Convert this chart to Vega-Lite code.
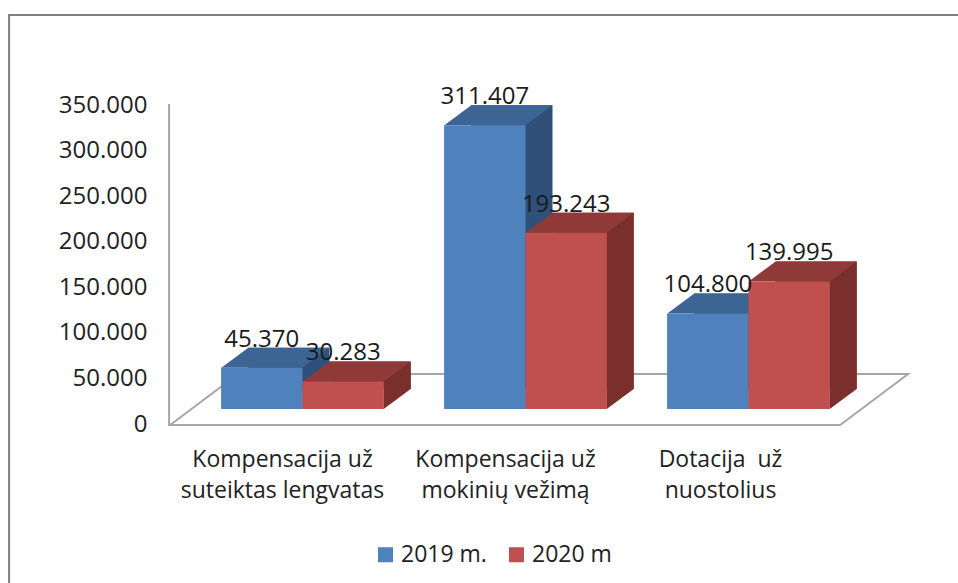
{"$schema":"https://vega.github.io/schema/vega-lite/v6.json","width":669,"height":319,"autosize":"none","padding":{"left":191,"top":90,"right":98,"bottom":174},"background":"white","config":{"view":{"stroke":null},"font":"Open Sans"},
"resolve":{"scale":{"xOffset":"independent"}},
"datasets":{"rows":[
{"cat":"Kompensacija už\nsuteiktas lengvatas","series":"2019 m.","value":45370},
{"cat":"Kompensacija už\nsuteiktas lengvatas","series":"2020 m","value":30283},
{"cat":"Kompensacija už\nmokinių vežimą","series":"2019 m.","value":311407},
{"cat":"Kompensacija už\nmokinių vežimą","series":"2020 m","value":193243},
{"cat":"Dotacija \u00a0už\nnuostolius","series":"2019 m.","value":104800},
{"cat":"Dotacija \u00a0už\nnuostolius","series":"2020 m","value":139995}],
"frame":[{"cat":"Kompensacija už\nmokinių vežimą"}]},
"data":{"name":"rows"},
"encoding":{
"x":{"field":"cat","type":"nominal","sort":["Kompensacija už\nsuteiktas lengvatas","Kompensacija už\nmokinių vežimą","Dotacija \u00a0už\nnuostolius"],"title":null,"scale":{"domain":["Kompensacija už\nsuteiktas lengvatas","Kompensacija už\nmokinių vežimą","Dotacija \u00a0už\nnuostolius"],"paddingInner":0.27,"paddingOuter":0.135},"axis":{"domain":false,"ticks":false,"grid":false,"labelAngle":0,"labelAlign":"center","labelBaseline":"top","labelPadding":39,"labelOffset":{"condition":{"test":"indexof(datum.label,'Dotacija')===0","value":-28},"value":-20},"labelFontSize":23,"labelColor":"#222222","labelLimit":0,"labelLineHeight":31,"labelExpr":"split(datum.label,'\\n')"}},
"xOffset":{"field":"series","type":"nominal","sort":null}},
"layer":[
{"data":{"name":"frame"},"mark":{"type":"point","shape":"M-435,200 L-435,-394 L541,-394","size":4,"filled":false,"stroke":"#7f7f7f","strokeWidth":2,"opacity":1},"encoding":{"xOffset":{"value":0},"y":{"datum":0,"type":"quantitative"}}},
{"data":{"name":"frame"},"mark":{"type":"point","shape":"M-275,-305 L-275,16 L396,16 L464,-35 L-206,-35 L-274,16","size":4,"filled":false,"stroke":"#a6a6a6","strokeWidth":2,"opacity":1},"encoding":{"xOffset":{"value":0},"y":{"datum":0,"type":"quantitative"}}},
{"mark":{"type":"bar","yOffset":-20,"y2Offset":-20},"encoding":{"xOffset":{"field":"series","type":"nominal","sort":null,"scale":{"range":[27,189.8]}},"y":{"field":"value","type":"quantitative","title":null,"scale":{"domain":[0,350000]},"axis":{"domain":false,"ticks":false,"grid":false,"values":[0,50000,100000,150000,200000,250000,300000,350000],"labelExpr":"replace(format(datum.value,','),',','.')","labelFontSize":24,"labelColor":"#222222","labelPadding":44,"labelOffset":15,"labelBaseline":"middle"}},"fill":{"condition":{"test":"datum.series==='2019 m.'","value":"#2f5078"},"value":"#7a2f2d"}}},
{"mark":{"type":"point","shape":"M40.5,0 L67.5,-20 L40.5,-20 Z","size":4,"filled":true,"opacity":1,"strokeWidth":0},"encoding":{"y":{"datum":0,"type":"quantitative"},"fill":{"condition":{"test":"datum.series==='2019 m.'","value":"#2f5078"},"value":"#7a2f2d"}}},
{"mark":{"type":"point","shape":"M-40.5,0 L40.5,0 L67.5,-20 L-13.5,-20 Z","size":4,"filled":true,"opacity":1,"strokeWidth":0},"encoding":{"y":{"field":"value","type":"quantitative"},"fill":{"condition":{"test":"datum.series==='2019 m.'","value":"#3d6594"},"value":"#8f3a38"}}},
{"mark":{"type":"bar"},"encoding":{"y":{"field":"value","type":"quantitative"},"color":{"field":"series","type":"nominal","sort":null,"scale":{"domain":["2019 m.","2020 m"],"range":["#4f81bd","#c0504d"]},"legend":{"orient":"none","legendX":183,"legendY":453,"direction":"horizontal","title":null,"symbolType":"square","symbolSize":225,"symbolStrokeWidth":0,"labelFontSize":23,"labelColor":"#222222","columnPadding":18,"labelOffset":4}}}},
{"mark":{"type":"text","dy":-28,"fontSize":24,"color":"#1a1a1a","text":{"expr":"replace(format(datum.value,','),',','.')"}},"encoding":{"y":{"field":"value","type":"quantitative"}}}
]}
